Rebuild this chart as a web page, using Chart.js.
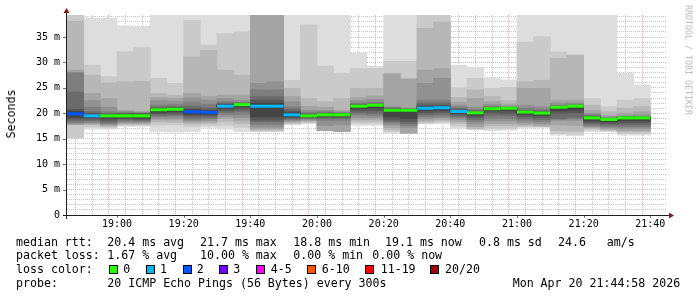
<!DOCTYPE html>
<html><head><meta charset="utf-8">
<script src="https://cdn.jsdelivr.net/npm/chart.js@4/dist/chart.umd.min.js"></script>
<style>
html,body{margin:0;padding:0;background:#fff;}
#wrap{position:relative;width:697px;height:297px;overflow:hidden;font-family:'DejaVu Sans Mono',monospace;color:#000;}
canvas{position:absolute;left:0;top:0;}
.t{position:absolute;font-size:11.6px;line-height:14px;white-space:pre;}
.box{position:absolute;width:7px;height:7px;border:1px solid #000;top:265px;}
#ylab{position:absolute;left:11px;top:114px;font-size:11.6px;line-height:12px;white-space:pre;transform:translate(-50%,-50%) rotate(-90deg);}
#wm{position:absolute;left:688px;top:60px;font-size:8.3px;line-height:9px;white-space:pre;color:rgba(0,0,0,0.3);transform:translate(-50%,-50%) rotate(90deg);}
</style></head>
<body>
<div id="wrap">
<canvas id="c" width="697" height="297"></canvas>
<div id="ylab">Seconds</div>
<div id="wm">RRDTOOL / TOBI OETIKER</div>
<div class="t" style="left:16px;top:234.5px">median rtt:</div>
<div class="t" style="left:107.3px;top:234.5px">20.4 ms avg</div>
<div class="t" style="left:200px;top:234.5px">21.7 ms max</div>
<div class="t" style="left:293.3px;top:234.5px">18.8 ms min</div>
<div class="t" style="left:385px;top:234.5px">19.1 ms now</div>
<div class="t" style="left:479px;top:234.5px">0.8 ms sd</div>
<div class="t" style="left:558px;top:234.5px">24.6</div>
<div class="t" style="left:606.7px;top:234.5px">am/s</div>
<div class="t" style="left:16px;top:248.2px">packet loss:</div>
<div class="t" style="left:107.3px;top:248.2px">1.67 % avg</div>
<div class="t" style="left:200px;top:248.2px">10.00 % max</div>
<div class="t" style="left:293.3px;top:248.2px">0.00 % min</div>
<div class="t" style="left:372.3px;top:248.2px">0.00 % now</div>
<div class="t" style="left:16px;top:262.4px">loss color:</div>
<div id="lossLegend"></div>
<div class="t" style="left:16px;top:275.7px">probe:</div>
<div class="t" style="left:107.3px;top:275.7px">20 ICMP Echo Pings (56 Bytes) every 300s</div>
<div class="t" style="left:512.7px;top:275.7px">Mon Apr 20 21:44:58 2026</div>
</div>
<script>
// ---- data ----
const sampleTimes = ['18:45','18:50','18:55','19:00','19:05','19:10','19:15','19:20','19:25','19:30','19:35','19:40','19:45','19:50','19:55','20:00','20:05','20:10','20:15','20:20','20:25','20:30','20:35','20:40','20:45','20:50','20:55','21:00','21:05','21:10','21:15','21:20','21:25','21:30','21:35'];
const medianRtt = [19.9,19.5,19.5,19.5,19.5,20.7,20.8,20.3,20.2,21.4,21.7,21.4,21.4,19.7,19.5,19.7,19.7,21.4,21.6,20.6,20.6,21.0,21.1,20.35,20.1,20.9,21.0,20.25,20.05,21.2,21.4,19.1,18.8,19.1,19.1];
const lostPings = [2,1,0,0,0,0,0,2,2,1,0,1,1,1,0,0,0,0,0,0,0,1,1,1,0,0,0,0,0,0,0,0,0,0,0];
// sorted ping rtts (ms) per sample, ping01 = fastest ... ping20 = slowest
const ping01 = [15.1,16.9,16.9,17.4,17.4,16.4,16.3,16.4,17.2,16.9,16.4,16.4,16.4,17.7,17.9,16.6,16.4,17.6,17.6,16.2,16.1,17.9,18.0,17.0,16.8,16.6,16.7,17.2,17.2,15.7,15.6,16.4,16.4,15.7,15.7];
const ping02 = [15.1,17.3,17.1,17.6,17.6,17.7,17.7,17.4,17.6,17.6,17.2,16.5,16.5,17.9,18.1,16.6,16.4,18.0,18.0,16.4,16.1,18.0,18.2,17.5,16.9,17.0,17.0,17.3,17.3,16.0,15.9,16.7,16.5,16.0,16.0];
const ping03 = [17.7,17.7,17.4,17.8,17.8,18.3,18.2,17.9,18.0,18.4,18.0,16.7,16.7,18.1,18.3,16.6,16.4,18.4,18.4,16.8,16.1,18.3,18.5,18.0,17.0,17.5,17.5,17.5,17.4,16.6,16.5,17.0,16.7,16.3,16.3];
const ping04 = [17.8,17.9,17.6,18.0,18.0,18.7,18.7,18.2,18.3,19.0,18.6,17.0,17.0,18.3,18.5,16.6,16.4,18.8,18.8,17.2,16.1,18.6,18.8,18.4,17.4,18.0,18.0,17.8,17.6,17.7,17.6,17.2,16.9,16.6,16.6];
const ping05 = [17.9,18.1,17.8,18.2,18.2,19.0,19.0,18.5,18.6,19.4,19.2,17.3,17.3,18.5,18.7,17.6,17.7,19.2,19.2,17.7,17.2,19.0,19.1,18.8,17.9,18.5,18.5,18.2,18.0,18.6,18.6,17.4,17.1,17.0,17.0];
const ping06 = [18.2,18.3,18.0,18.4,18.4,19.3,19.4,18.8,18.9,19.8,19.8,17.8,17.8,18.7,18.9,18.6,18.6,19.7,19.6,18.1,17.6,19.3,19.4,19.1,18.4,19.0,19.0,18.6,18.4,18.8,18.9,17.6,17.4,17.3,17.3];
const ping07 = [18.5,18.6,18.2,18.7,18.6,19.6,19.7,19.1,19.2,20.2,20.4,18.3,18.3,18.9,19.0,19.0,19.0,20.1,20.0,18.4,18.0,19.7,19.8,19.4,18.8,19.6,19.5,19.0,18.8,19.0,19.2,17.9,17.7,17.7,17.7];
const ping08 = [18.9,18.9,18.6,18.9,18.8,19.9,20.0,19.5,19.5,20.6,20.8,18.7,18.7,19.1,19.2,19.2,19.2,20.5,20.5,18.7,18.4,20.1,20.2,19.7,19.2,20.1,20.0,19.4,19.2,20.0,20.1,18.2,18.0,18.1,18.1];
const ping09 = [19.2,19.2,19.0,19.1,19.0,20.2,20.3,19.8,19.8,21.0,21.2,19.3,19.3,19.3,19.3,19.4,19.4,20.9,21.0,19.3,19.0,20.5,20.6,20.0,19.6,20.5,20.5,19.8,19.6,20.5,20.6,18.5,18.3,18.5,18.5];
const ping10 = [19.7,19.4,19.4,19.4,19.3,20.5,20.7,20.1,20.1,21.3,21.6,21.2,21.2,19.5,19.4,19.6,19.6,21.3,21.5,20.5,20.5,20.9,21.0,20.25,20.0,20.85,20.95,20.15,19.95,21.1,21.35,19.0,18.75,19.05,19.05];
const ping11 = [20.1,19.6,19.6,19.6,19.6,20.9,20.9,20.5,20.3,21.5,21.75,21.6,21.6,19.9,19.6,19.8,19.8,21.5,21.7,20.7,20.7,21.1,21.2,20.45,20.2,20.95,21.05,20.35,20.15,21.3,21.45,19.2,18.85,19.15,19.15];
const ping12 = [20.4,19.8,19.7,19.8,19.8,20.95,21.0,20.7,20.5,21.7,21.8,22.0,22.0,20.1,19.7,19.9,19.85,21.6,21.75,20.8,20.75,21.3,21.4,20.55,20.25,21.0,21.1,20.4,20.2,21.35,21.5,19.3,18.9,19.2,19.2];
const ping13 = [20.8,20.0,19.8,19.9,19.9,21.0,21.1,20.9,20.7,21.8,21.9,22.6,22.6,20.4,19.8,20.0,19.9,21.7,21.8,20.9,20.8,21.6,21.6,20.7,20.35,21.1,21.15,20.45,20.3,21.4,21.55,19.4,18.95,19.25,19.25];
const ping14 = [24.2,20.3,20.0,20.0,20.0,21.2,21.3,21.4,21.1,22.0,22.0,23.3,23.3,20.8,19.9,20.1,20.0,21.8,21.9,21.0,20.85,22.0,22.0,20.9,20.5,21.2,21.2,20.6,20.5,21.45,21.6,19.5,19.0,19.3,19.3];
const ping15 = [28.0,21.2,20.3,20.2,20.1,21.6,21.7,22.2,21.8,22.3,22.2,24.6,24.6,21.3,20.2,20.3,20.1,22.0,22.2,21.1,20.9,22.6,22.6,21.2,20.8,21.4,21.3,21.0,20.8,21.6,21.8,19.7,19.1,19.4,19.4];
const ping16 = [28.0,22.5,21.2,20.4,20.2,22.5,22.4,23.0,22.6,22.9,22.6,25.9,26.2,22.3,20.6,20.6,20.3,22.5,22.7,21.3,21.0,25.9,26.9,21.6,21.2,21.8,21.4,21.6,21.3,22.0,22.1,20.0,19.3,19.5,19.7];
const ping17 = [28.5,23.9,22.9,20.6,20.4,23.1,23.0,23.9,23.3,23.6,23.6,40,40,23.3,21.4,21.2,20.6,23.1,23.4,27.7,26.7,28.5,28.8,22.2,22.9,22.3,21.8,24.9,24.9,22.6,22.6,20.6,19.6,20.0,20.3];
const ping18 = [38.1,27.5,26.0,26.2,26.3,23.9,23.6,31.1,32.4,28.5,27.5,40,40,24.9,22.9,22.3,22.9,24.9,24.9,27.9,26.9,36.7,38.0,23.1,24.6,23.3,22.5,26.2,26.5,30.8,31.4,21.6,20.3,21.0,21.3];
const ping19 = [40,29.5,27.2,32.1,32.9,26.9,25.9,38.3,33.4,35.7,36.0,40,40,26.5,37.4,29.3,27.9,28.8,28.8,30.2,30.2,40,40,25.0,26.9,24.9,25.1,34.0,35.1,32.1,31.5,22.9,21.3,22.6,22.9];
const ping20 = [40,38.7,38.7,37.2,36.9,40,40,40,40,40,40,40,40,40,40,40,40,31.8,29.3,40,40,40,40,29.5,29.0,26.9,26.6,40,40,40,40,40,40,27.9,25.6];
const yLabelValues = [0,5,10,15,20,25,30,35];
const xLabelTimes = ['19:00','19:20','19:40','20:00','20:20','20:40','21:00','21:20','21:40'];
const lossLegend = [['0','#26ff00'],['1','#00b8ff'],['2','#0059ff'],['3','#6e00ff'],['4-5','#ff00ff'],['6-10','#ff5500'],['11-19','#ff0000'],['20/20','#a10000']];
const lossLegendX = [[108.5,123.3],[145.7,160],[182.7,196.7],[219.3,233.3],[256,270.7],[307.3,321.7],[365.3,380.7],[430,445]];

// ---- helpers ----
const toMin = s => { const p = s.split(':').map(Number); return p[0]*60 + p[1]; };
const STEP = 5;
const starts = sampleTimes.map(toMin);
const xMin = starts[0], xMax = toMin('21:45');
const pings = [ping01,ping02,ping03,ping04,ping05,ping06,ping07,ping08,ping09,ping10,ping11,ping12,ping13,ping14,ping15,ping16,ping17,ping18,ping19,ping20];
function lossColor(n){
  if (n <= 0) return lossLegend[0][1];
  if (n === 1) return lossLegend[1][1];
  if (n === 2) return lossLegend[2][1];
  if (n === 3) return lossLegend[3][1];
  if (n <= 5) return lossLegend[4][1];
  if (n <= 10) return lossLegend[5][1];
  if (n <= 19) return lossLegend[6][1];
  return lossLegend[7][1];
}
const shade = i => { const v = Math.floor(190/10*(10-i)) + 50; return `rgb(${v},${v},${v})`; };
const fmtTime = m => String(Math.floor(m/60)).padStart(2,'0') + ':' + String(m%60).padStart(2,'0');

// legend boxes
const lg = document.getElementById('lossLegend');
lossLegend.forEach((e,i) => {
  const b = document.createElement('div'); b.className='box'; b.style.left = lossLegendX[i][0]+'px'; b.style.background = e[1]; lg.appendChild(b);
  const t = document.createElement('div'); t.className='t'; t.style.left = lossLegendX[i][1]+'px'; t.style.top='262.4px'; t.textContent = e[0]; lg.appendChild(t);
});

const datasets = [];
for (let i = 1; i <= 10; i++) {
  const lo = pings[i-1], hi = pings[20-i];
  datasets.push({
    type: 'bar', order: 11 - i, grouped: false, barPercentage: 1, categoryPercentage: 1,
    backgroundColor: shade(i), borderWidth: 0,
    data: starts.map((s, j) => ({ x: s + STEP/2, y: [lo[j], hi[j]] }))
  });
}
const medPts = [];
starts.forEach((s, j) => { medPts.push({x: s, y: medianRtt[j]}, {x: s + STEP, y: medianRtt[j]}, {x: s + STEP, y: null}); });
datasets.push({
  type: 'line', order: 0, data: medPts, borderWidth: 3, pointRadius: 0, spanGaps: false,
  borderCapStyle: 'butt', tension: 0, borderColor: lossLegend[0][1],
  segment: { borderColor: c => lossColor(lostPings[Math.floor(c.p0DataIndex / 3)]) }
});

const GRID = 'rgba(143,143,143,0.5)', MGRID = 'rgba(222,79,79,0.45)';
const axisPlugin = {
  id: 'rrdAxes',
  afterDraw(chart) {
    const {ctx, chartArea: a, scales} = chart;
    ctx.save();
    ctx.strokeStyle = '#777'; ctx.lineWidth = 1;
    yLabelValues.forEach(v => { if (v === 0) return; const y = Math.round(scales.y.getPixelForValue(v)) + 0.5;
      ctx.beginPath(); ctx.moveTo(a.left - 4, y); ctx.lineTo(a.left, y); ctx.stroke(); });
    xLabelTimes.forEach(t => { const x = Math.round(scales.x.getPixelForValue(toMin(t))) + 0.5;
      ctx.beginPath(); ctx.moveTo(x, a.bottom); ctx.lineTo(x, a.bottom + 3); ctx.stroke(); });
    ctx.strokeStyle = 'rgb(31,31,31)';
    const x0 = a.left - 0.5, y0 = a.bottom + 0.5;
    ctx.beginPath(); ctx.moveTo(a.left - 4, y0); ctx.lineTo(a.right + 5, y0);
    ctx.moveTo(x0, a.bottom + 4); ctx.lineTo(x0, a.top - 4); ctx.stroke();
    ctx.fillStyle = 'rgb(128,31,31)';
    ctx.beginPath(); ctx.moveTo(x0 - 3, a.top - 2); ctx.lineTo(x0 + 3, a.top - 2); ctx.lineTo(x0, a.top - 7); ctx.closePath(); ctx.fill();
    ctx.beginPath(); ctx.moveTo(a.right + 2, y0 - 3); ctx.lineTo(a.right + 2, y0 + 3); ctx.lineTo(a.right + 7, y0); ctx.closePath(); ctx.fill();
    ctx.restore();
  }
};

new Chart(document.getElementById('c'), {
  type: 'bar',
  data: { datasets },
  options: {
    responsive: false, animation: false, devicePixelRatio: 1,
    layout: { padding: { top: 15, right: 30, left: 0, bottom: 0 } },
    plugins: { legend: { display: false }, tooltip: { enabled: false } },
    scales: {
      x: {
        type: 'linear', min: xMin, max: xMax, offset: false, z: 1,
        afterFit: s => { s.height = 82; },
        grid: { drawTicks: false, lineWidth: 1,
          color: c => { const v = c.tick ? c.tick.value : 0; if (v === xMin || v === xMax) return 'rgba(0,0,0,0)'; return xLabelTimes.includes(fmtTime(v)) ? MGRID : GRID; } },
        border: { display: false, dash: [1, 1] },
        ticks: { stepSize: STEP, autoSkip: false, maxRotation: 0, minRotation: 0, padding: 3, includeBounds: false,
          color: '#000', font: { family: 'DejaVu Sans Mono', size: 10 },
          callback: v => xLabelTimes.includes(fmtTime(v)) ? fmtTime(v) : '' }
      },
      y: {
        min: 0, max: 39.33, z: 1,
        afterFit: s => { s.width = 67; },
        grid: { drawTicks: false, lineWidth: 1,
          color: c => { const v = c.tick ? c.tick.value : 0; if (v === 0) return 'rgba(0,0,0,0)'; return yLabelValues.includes(v) ? MGRID : GRID; } },
        border: { display: false, dash: [1, 1] },
        ticks: { stepSize: 1, autoSkip: false, padding: 7, includeBounds: false,
          color: '#000', font: { family: 'DejaVu Sans Mono', size: 10 },
          callback: v => yLabelValues.includes(v) ? (v === 0 ? '0' : v + ' m') : '' }
      }
    }
  },
  plugins: [axisPlugin]
});
</script>
</body></html>
